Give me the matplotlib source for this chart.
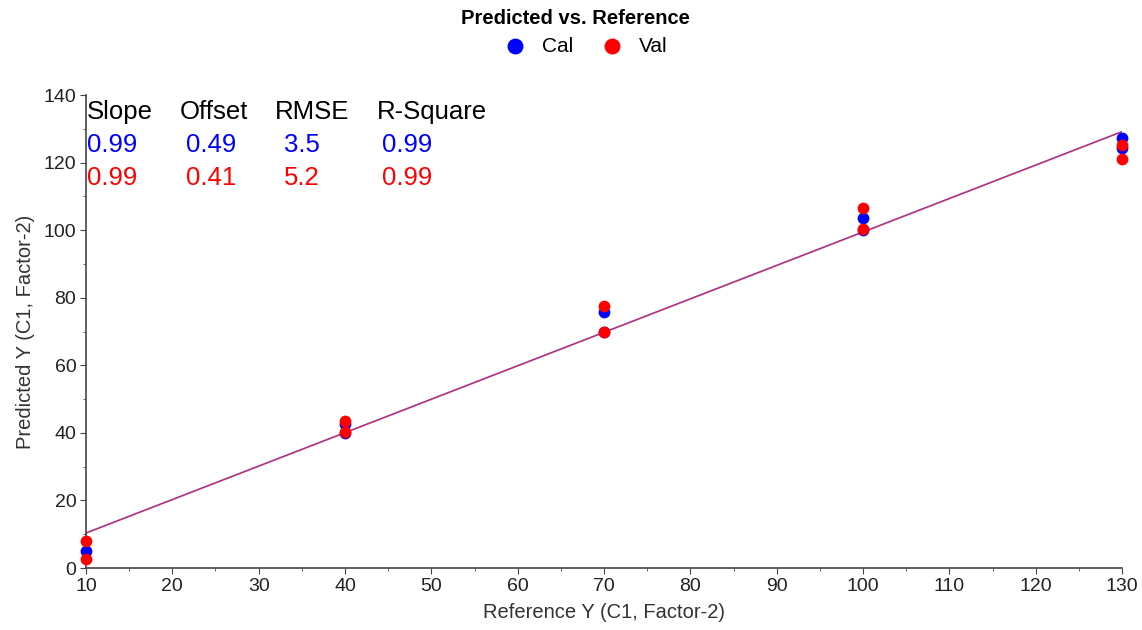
import matplotlib
matplotlib.use("Agg")
import matplotlib.pyplot as plt
import numpy as np

plt.rcParams["font.family"] = ["Liberation Sans", "DejaVu Sans"]

# calibration / validation predictions per reference level
ref_cal = [10, 40, 40, 70, 70, 100, 100, 130, 130]
pred_cal = [5.0, 42.6, 40.0, 75.8, 70.0, 103.5, 100.0, 127.3, 124.2]
ref_val = [10, 10, 40, 40, 70, 70, 100, 100, 130, 130]
pred_val = [8.0, 2.6, 43.4, 40.4, 77.6, 70.0, 106.7, 100.3, 125.2, 121.0]

# regression statistics (Cal, Val)
stat_names = ["Slope", "Offset", "RMSE", "R-Square"]
stats_cal = ["0.99", "0.49", "3.5", "0.99"]
stats_val = ["0.99", "0.41", "5.2", "0.99"]
slope_cal, offset_cal = 0.99, 0.49
slope_val, offset_val = 0.99, 0.41

CAL = "#0000ff"
VAL = "#ff0000"

fig = plt.figure(figsize=(11.42, 6.3), dpi=100)
ax = fig.add_axes([0.0753, 0.0984, 0.9072, 0.7508])

xl = np.array([10, 130])
ax.plot(xl, slope_cal * xl + offset_cal, color=CAL, lw=1.1, alpha=0.6, zorder=2)
ax.plot(xl, slope_val * xl + offset_val, color=VAL, lw=1.1, alpha=0.55, zorder=2)

ax.scatter(ref_cal, pred_cal, s=72, color=CAL, zorder=3, clip_on=False,
           linewidths=0, label="Cal")
ax.scatter(ref_val, pred_val, s=72, color=VAL, zorder=4, clip_on=False,
           linewidths=0, label="Val")

ax.set_xlim(10, 130)
ax.set_ylim(0, 140)
ax.set_xticks(np.arange(10, 131, 10))
ax.set_xticks(np.arange(15, 130, 10), minor=True)
ax.set_yticks(np.arange(0, 141, 20))
ax.set_yticks(np.arange(10, 140, 20), minor=True)
for s in ("top", "right"):
    ax.spines[s].set_visible(False)
for s in ("left", "bottom"):
    ax.spines[s].set_color("#444444")
    ax.spines[s].set_linewidth(1.2)
ax.tick_params(which="major", length=4, color="#444444", labelsize=14,
               labelcolor="#222222", pad=3)
ax.tick_params(which="minor", length=2, color="#444444")
ax.set_xlabel("Reference Y (C1, Factor-2)", fontsize=14.5, color="#333333",
              labelpad=6)
ax.set_ylabel("Predicted Y (C1, Factor-2)", fontsize=14.5, color="#333333",
              labelpad=6)

# stats table in the upper left
col_x = [87, 180, 275, 377]
val_x = [87, 186, 284, 382]
for i, name in enumerate(stat_names):
    fig.text(col_x[i] / 1142, 1 - 112 / 630, name, fontsize=18.5,
             color="black", va="center")
    fig.text(val_x[i] / 1142, 1 - 145 / 630, stats_cal[i], fontsize=18.5,
             color=CAL, va="center")
    fig.text(val_x[i] / 1142, 1 - 178 / 630, stats_val[i], fontsize=18.5,
             color=VAL, va="center")

fig.text(0.504, 1 - 19 / 630, "Predicted vs. Reference", fontsize=14.5,
         fontweight="bold", ha="center", va="center")
fig.legend(loc="center", bbox_to_anchor=(0.513, 1 - 46 / 630), ncol=2,
           frameon=False, fontsize=15, handlelength=1.0, handletextpad=0.8,
           columnspacing=1.35, markerscale=1.35)

fig.savefig("out.png", dpi=100)
